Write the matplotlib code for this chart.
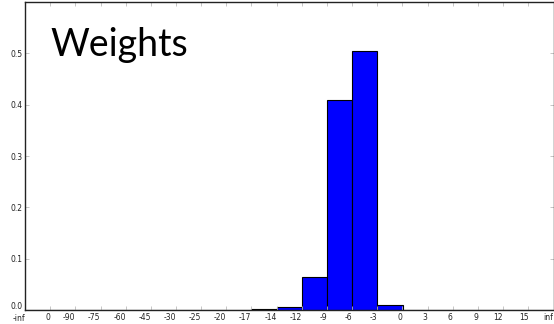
import matplotlib
matplotlib.use('Agg')
import matplotlib.pyplot as plt
import matplotlib.transforms as mtransforms
import numpy as np

# bin edges of the weight histogram (log-ish buckets, shown as categories)
edge_labels = ['-inf', '0', '-90', '-75', '-60', '-45', '-30', '-25', '-20', '-17', '-14',
               '-12', '-9', '-6', '-3', '0', '3', '6', '9', '12', '15', 'inf']
# fraction of weights in each bin
fractions = [0, 0, 0, 0, 0, 0, 0, 0, 0, 0.002, 0.006,
             0.064, 0.409, 0.505, 0.009, 0, 0, 0, 0, 0, 0]

fig = plt.figure(figsize=(5.54, 3.24), dpi=100)
ax = fig.add_axes([25/554, 14/324, 528.5/554, 308/324])

pos = np.arange(len(fractions))
ax.bar(pos, fractions, width=1.0, align='edge', color='#0000ff', edgecolor='black', linewidth=0.8)

ax.set_xlim(0, len(edge_labels) - 1)
ax.set_ylim(0, 0.6)
ax.set_xticks(np.arange(len(edge_labels)))
ax.set_xticklabels(edge_labels, ha='right')
ax.set_yticks([0.0, 0.1, 0.2, 0.3, 0.4, 0.5])
ax.tick_params(direction='in', length=3, width=0.6, labelsize=5.5, top=True, right=True,
               colors='#bbbbbb', labelcolor='#222222', pad=2)
for s in ax.spines.values():
    s.set_linewidth(1.0)
    s.set_color('#222222')

# keep the corner labels apart
ylab0 = ax.get_yticklabels()[0]
ylab0.set_transform(ylab0.get_transform() + mtransforms.ScaledTranslation(0, 3/72, fig.dpi_scale_trans))
xlab0 = ax.get_xticklabels()[0]
xlab0.set_transform(xlab0.get_transform() + mtransforms.ScaledTranslation(0, -1/72, fig.dpi_scale_trans))

fig.text(50/554, 1 - 56/324, 'Weights', fontsize=27, family='Lato', color='black')

fig.savefig('out.png', dpi=100)
